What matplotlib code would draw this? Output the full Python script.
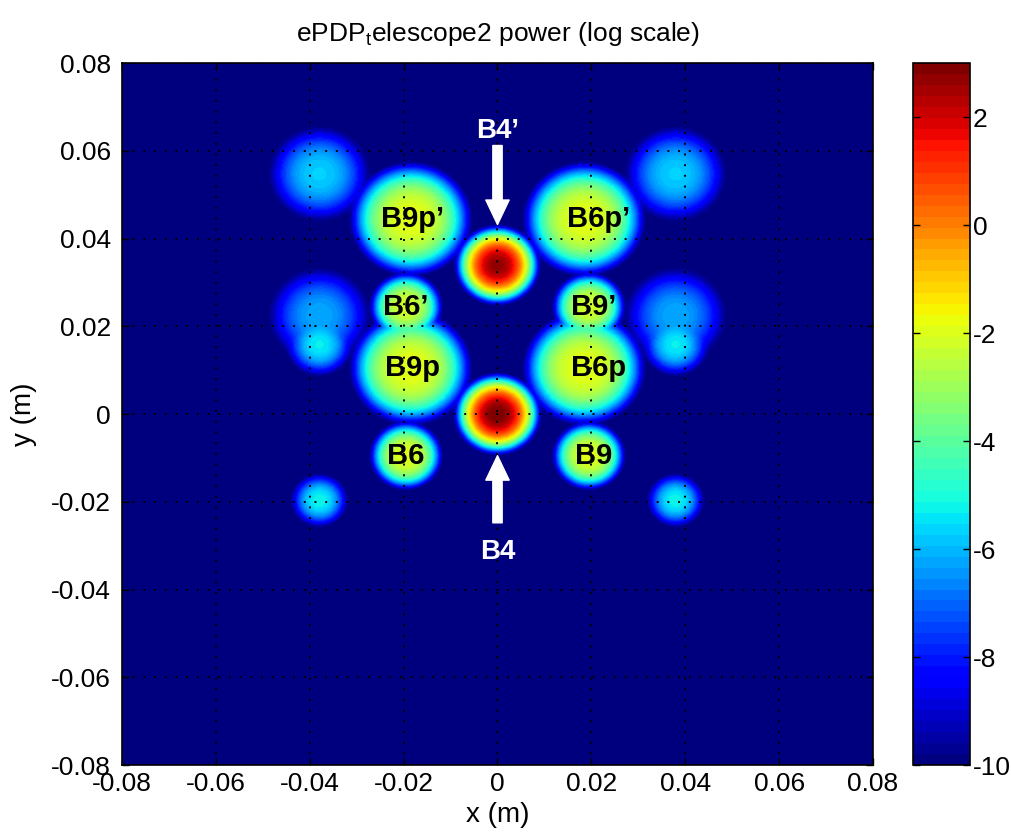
import numpy as np
import matplotlib
matplotlib.use("Agg")
import matplotlib.pyplot as plt
from matplotlib.colors import ListedColormap

plt.rcParams['font.family'] = ['Liberation Sans', 'DejaVu Sans']
plt.rcParams['axes.unicode_minus'] = False

# ---- data: spots in the detector plane (log10 power) ----
spot_x = [0.0, 0.0, -0.0185, 0.0185, -0.0195, 0.0195, -0.0185, 0.0185, -0.0195, 0.0195,
          -0.038, 0.038, -0.038, 0.038, -0.038, 0.038, -0.038, 0.038]
spot_y = [0.0, 0.034, 0.0445, 0.0445, 0.0245, 0.0245, 0.0105, 0.0105, -0.0095, -0.0095,
          0.0548, 0.0548, 0.0225, 0.0225, 0.0158, 0.0158, -0.0197, -0.0197]
spot_peak = [3.0, 2.7, -1.9, -1.9, -2.2, -2.2, -1.9, -1.9, -2.0, -2.0,
             -5.7, -5.7, -6.2, -6.2, -5.3, -5.3, -5.2, -5.2]
spot_radius = [0.0094, 0.0092, 0.0130, 0.0130, 0.0078, 0.0078, 0.0130, 0.0130, 0.0078, 0.0078,
               0.0105, 0.0105, 0.0105, 0.0105, 0.0070, 0.0070, 0.0060, 0.0060]
spot_shape = [2.4, 2.4, 3.0, 3.0, 3.0, 3.0, 3.0, 3.0, 3.0, 3.0,
              2.5, 2.5, 2.5, 2.5, 2.4, 2.4, 2.5, 2.5]

labels = ["B9p\u2019", "B6p\u2019", "B6\u2019", "B9\u2019", "B9p", "B6p", "B6", "B9"]
label_x = [-0.0182, 0.0215, -0.0195, 0.0205, -0.0182, 0.0215, -0.0195, 0.0205]
label_y = [0.0445, 0.0445, 0.0245, 0.0245, 0.0105, 0.0105, -0.0095, -0.0095]

floor_val = -10.0
vmax = 3.0
lim = 0.08
ticks = [-0.08, -0.06, -0.04, -0.02, 0, 0.02, 0.04, 0.06, 0.08]
tick_labels = ["-0.08", "-0.06", "-0.04", "-0.02", "0", "0.02", "0.04", "0.06", "0.08"]
cb_ticks = [-10, -8, -6, -4, -2, 0, 2]

# ---- build field ----
n = 600
g = np.linspace(-lim, lim, n)
X, Y = np.meshgrid(g, g)
power = np.full_like(X, 10.0 ** floor_val)
for x0, y0, pk, R, p in zip(spot_x, spot_y, spot_peak, spot_radius, spot_shape):
    r = np.hypot(X - x0, Y - y0) / R
    v = pk - (pk - floor_val) * r ** p
    v = np.maximum(v, floor_val - 5)
    power += 10.0 ** v
Z = np.clip(np.log10(power), floor_val, vmax)

fig = plt.figure(figsize=(10.12, 8.38), dpi=100)
ax = fig.add_axes([0.1206, 0.0871, 0.742, 0.8377])
cax = fig.add_axes([0.902, 0.0871, 0.0563, 0.8377])

cmap = ListedColormap(plt.get_cmap('jet')(np.linspace(0, 1, 64)))
im = ax.imshow(Z, extent=[-lim, lim, -lim, lim], origin='lower', cmap=cmap,
               vmin=floor_val, vmax=vmax, interpolation='bilinear', aspect='auto')

ax.set_xlim(-lim, lim)
ax.set_ylim(-lim, lim)
ax.set_xticks(ticks)
ax.set_xticklabels(tick_labels)
ax.set_yticks(ticks)
ax.set_yticklabels(tick_labels)
ax.tick_params(direction='in', length=5, width=1, top=True, right=True, labelsize=19)
ax.tick_params(axis='x', pad=5)
ax.tick_params(axis='y', pad=8)
ax.grid(True, color='black', linestyle=(0, (1, 4.5)), linewidth=1.4)
for s in ax.spines.values():
    s.set_linewidth(1.2)
ax.set_xlabel("x (m)", fontsize=20, labelpad=4)
ax.set_ylabel("y (m)", fontsize=20, labelpad=10)
ax.set_title("ePDP$_\\mathregular{t}$elescope2 power (log scale)", fontsize=19, pad=16)

for t, x, y in zip(labels, label_x, label_y):
    ax.text(x, y, t, ha='center', va='center', fontsize=21, fontweight='bold',
            color='black')

ax.text(0.0, 0.0645, "B4\u2019", ha='center', va='center', fontsize=20, fontweight='bold',
        color='white')
ax.text(0.0, -0.0315, "B4", ha='center', va='center', fontsize=20, fontweight='bold',
        color='white')
arrow_style = "simple,head_length=1.1,head_width=1.05,tail_width=0.42"
ax.annotate("", xy=(0.0, 0.0432), xytext=(0.0, 0.0612),
            arrowprops=dict(arrowstyle=arrow_style, color='white', mutation_scale=16,
                            shrinkA=0, shrinkB=0))
ax.annotate("", xy=(0.0, -0.0095), xytext=(0.0, -0.0248),
            arrowprops=dict(arrowstyle=arrow_style, color='white', mutation_scale=16,
                            shrinkA=0, shrinkB=0))

cb = fig.colorbar(im, cax=cax, ticks=cb_ticks)
cb.ax.tick_params(direction='in', length=5, width=1, labelsize=19, left=True, right=True, pad=2)
cb.outline.set_linewidth(1.2)

fig.savefig("out.png", dpi=100)
